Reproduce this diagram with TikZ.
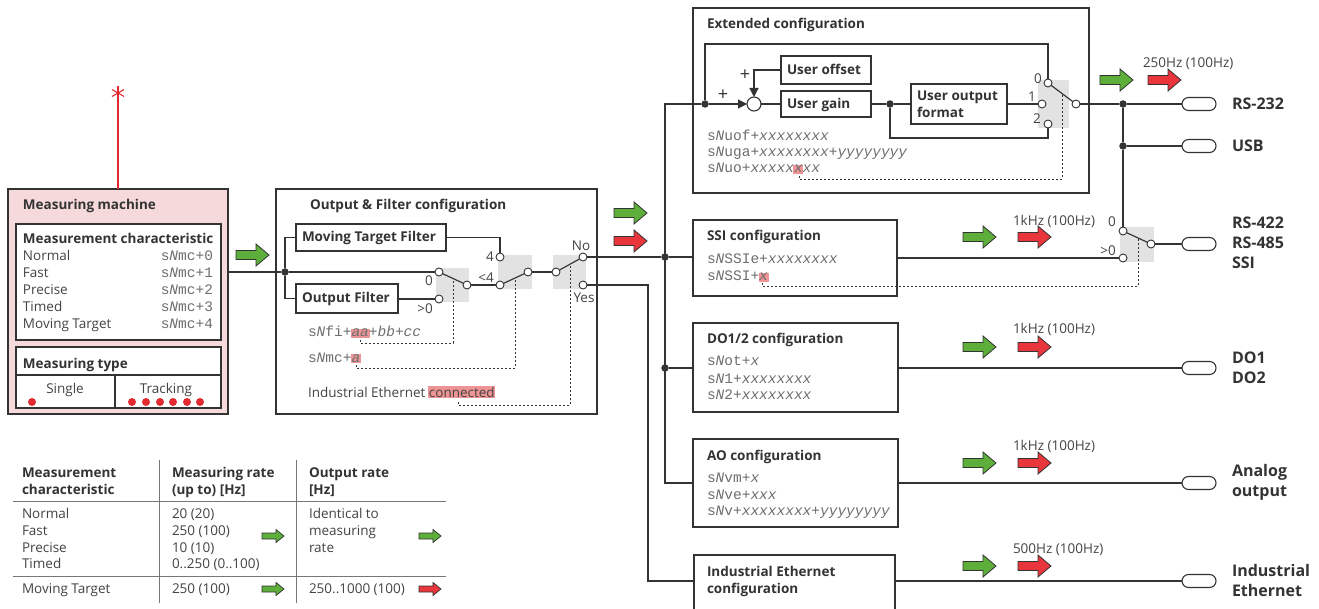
\documentclass[tikz,border=0pt]{standalone}
\usepackage{fontspec}
\setmainfont{Open Sans}
\newfontfamily\codefont{Liberation Mono}
\usetikzlibrary{arrows.meta}
\definecolor{ln}{HTML}{333333}
\definecolor{tx}{HTML}{333333}
\definecolor{tx2}{HTML}{444444}
\definecolor{cdc}{HTML}{6E6E6E}
\definecolor{pinkf}{HTML}{F6DADB}
\definecolor{hlc}{HTML}{EE9494}
\definecolor{agreen}{HTML}{5DAE3A}
\definecolor{ared}{HTML}{E8363C}
\definecolor{redd}{HTML}{E32A30}
\definecolor{swg}{HTML}{E2E2E2}
\definecolor{tlc}{HTML}{777777}
\newcommand\hl[1]{{\setlength{\fboxsep}{0.6pt}\kern-0.6pt\colorbox{hlc}{#1}\kern-0.6pt}}
\newcommand\cN{\textit{N}}
\begin{document}
\begin{tikzpicture}[x=1pt,y=-1pt,
 every node/.style={inner sep=0pt, outer sep=0pt},
 bx/.style={draw=ln, line width=1.1pt, fill=white, anchor=north west},
 ttl/.style={anchor=base west, text=tx, font=\bfseries\fontsize{13.5}{16}\selectfont},
 rg/.style={anchor=base west, text=tx2, font=\fontsize{13.5}{17}\selectfont},
 cd/.style={anchor=base west, text=cdc, font=\codefont\fontsize{14.5}{17}\selectfont},
 big/.style={anchor=west, text=tx, font=\bfseries\fontsize{16}{20}\selectfont, align=left},
 lbl/.style={anchor=center, text=tx2, font=\fontsize{13.5}{16}\selectfont},
 plus/.style={anchor=center, text=tx, font=\fontsize{18}{18}\selectfont},
 term/.style={circle, draw=ln, fill=white, line width=0.9pt, minimum size=8pt},
 jd/.style={circle, fill=ln, minimum size=7.5pt},
 rdot/.style={circle, fill=redd, minimum size=8pt},
 wire/.style={draw=ln, line width=1.15pt},
 dots/.style={draw=ln, line width=0.9pt, dash pattern=on 2pt off 2pt},
 redl/.style={draw=redd, line width=1.1pt},
 tl/.style={draw=tlc, line width=1pt},
 plug/.style={draw=ln, line width=1.1pt, fill=white, rounded corners=6.5pt, minimum width=34pt, minimum height=13pt},
 pics/barrow/.style={code={\filldraw[fill=#1, draw=ln, line width=0.8pt] (0,-4.5)--(20,-4.5)--(20,-11)--(33,0)--(20,11)--(20,4.5)--(0,4.5)--cycle;}},
 pics/sarrow/.style={code={\filldraw[fill=#1, draw=ln, line width=0.7pt] (0,-3)--(14,-3)--(14,-6.5)--(22,0)--(14,6.5)--(14,3)--(0,3)--cycle;}},
 tip/.style={-{Triangle[length=9pt,width=9pt]}}
]
\useasboundingbox[fill=white] (0,0) rectangle (1319,609);

% ---------------- Measuring machine
\coordinate (star) at (118,93);
\node[bx, fill=pinkf, minimum width=220pt, minimum height=225pt] (mm) at (8,189) {};
\draw[redl] (star) -- (star |- mm.north);
\draw[redl] (star) ++(0,-7) -- ++(0,14);
\draw[redl] (star) ++(-6.1,-3.5) -- ++(12.2,7);
\draw[redl] (star) ++(-6.1,3.5) -- ++(12.2,-7);
\node[ttl] (mmt) at (23,210) {Measuring machine};
\node[bx, minimum width=205pt, minimum height=116pt] (mc) at (16,224) {};
\begin{scope}
\clip (mc.north west) rectangle (mc.south east);
\node[ttl] (mct) at (23,244) {Measurement characteristic};
\end{scope}
\foreach \t/\c/\y [count=\i] in {Normal/0/261, Fast/1/278, Precise/2/295, Timed/3/312, Moving Target/4/329} {
 \node[rg] (mci\i) at (23,\y) {\t};
 \node[cd, anchor=base east] (mcc\i) at (213,\y) {s\cN mc+\c};
}
\node[bx, minimum width=205pt, minimum height=61pt] (mt) at (16,347) {};
\draw[wire] (16,375) -- (221,375);
\draw[wire] (115,375) -- (115,408);
\node[ttl] (mtt) at (23,368) {Measuring type};
\node[rg, anchor=base] (sgl) at (65,393) {Single};
\node[rg, anchor=base] (trk) at (166,393) {Tracking};
\node[rdot] (sd1) at (32,402) {};
\foreach \x [count=\i] in {132,146,160,173,187,200} \node[rdot] (td\i) at (\x,402) {};
\pic at (236,255) {barrow=agreen};

% ---------------- Output & Filter configuration
\node[bx, minimum width=321pt, minimum height=225pt] (ofc) at (276,189) {};
\node[ttl] (ofct) at (310,210) {Output \& Filter configuration};
\node[bx, minimum width=150pt, minimum height=27pt] (mtf) at (296,224) {};
\node[ttl] (mtft) at (302,242) {Moving Target Filter};
\node[bx, minimum width=102pt, minimum height=29pt] (of) at (296,284) {};
\node[ttl] (oft) at (302,303) {Output Filter};
\fill[swg] (436,268) rectangle (469,302);
\fill[swg] (498,255) rectangle (532,289);
\fill[swg] (553,255) rectangle (586,289);
\node[jd] (jdot) at (285,272) {};
\draw[wire] (mm.east |- jdot) -- (jdot);
\draw[wire] (mtf.west) -| (jdot) |- (of.west);
\node[term] (t10) at (439,272) {};
\node[term] (t1g) at (439,299) {};
\node[term] (c1) at (467,285) {};
\node[term] (t24) at (500,257) {};
\node[term] (t2l) at (500,285) {};
\node[term] (c2) at (528,272) {};
\node[term] (c3) at (556,272) {};
\node[term] (tno) at (583,257) {};
\node[term] (tyes) at (583,285) {};
\draw[wire] (jdot) -- (t10);
\draw[wire] (of.east |- t1g) -- (t1g);
\draw[wire] (t10) -- (c1);
\draw[wire] (c1) -- (t2l);
\draw[wire] (mtf.east) -| (t24);
\draw[wire] (t2l) -- (c2);
\draw[wire] (c2) -- (c3);
\draw[wire] (c3) -- (tno);
\node[lbl] (l0a) at (429,281) {0};
\node[lbl] (l0b) at (425,309) {>0};
\node[lbl] (l4a) at (490,257) {4};
\node[lbl] (l4b) at (486,278) {<4};
\node[lbl] (lno) at (581,246) {No};
\node[lbl] (lyes) at (584,298) {Yes};
\node[cd] (cfi) at (308,337) {s\cN fi+\hl{\textit{aa}}+\textit{bb}+\textit{cc}};
\node[cd] (cmc) at (308,362) {s\cN mc+\hl{\textit{a}}};
\node[rg] (iec) at (308,397) {Industrial Ethernet \hl{connected}};
\draw[dots] (360,340) -- (360,343) -- (453,343) -- (453,281);
\draw[dots] (356,365) -- (356,368) -- (515,368) -- (515,280);
\draw[dots] (458,402) -- (458,405) -- (570,405) -- (570,265);
\pic at (614,213) {barrow=agreen};
\pic at (614,241) {barrow=ared};

% ---------------- right-hand configuration boxes
\node[bx, minimum width=396pt, minimum height=185pt] (ext) at (693,8) {};
\node[bx, minimum width=204pt, minimum height=76pt] (ssi) at (693,220) {};
\node[bx, minimum width=205pt, minimum height=89pt] (do) at (693,323) {};
\node[bx, minimum width=205pt, minimum height=88pt] (ao) at (693,439) {};
\node[bx, minimum width=201pt, minimum height=70pt] (ie) at (694,555) {};

% bus
\coordinate (busT) at (665,104);
\coordinate (busB) at (665,483);
\node[jd] (b1) at (665,257) {};
\node[jd] (b2) at (665,368) {};
\coordinate (yc) at (648,581);
\draw[wire] (tno) -- (b1) -- (ssi.west |- b1);
\draw[wire] (b2) -- (do.west |- b2);
\draw[wire] (tyes) -| (yc) -- (ie.west |- yc);

% Extended configuration
\node[ttl] (extt) at (707,29) {Extended configuration};
\fill[swg] (1038,80) rectangle (1069,128);
\node[jd] (e1) at (705,104) {};
\draw[wire] (e1) -- (busT) -- (busB) -- (ao.west |- busB);
\draw[wire] (b1) -- (busT);
\node[circle, draw=ln, fill=white, line width=1.1pt, minimum size=14pt] (sum) at (754,104) {};
\node[bx, minimum width=90pt, minimum height=28pt] (uo) at (781,56) {};
\node[ttl] (uot) at (787,75) {User offset};
\node[bx, minimum width=90pt, minimum height=26pt] (ug) at (781,91) {};
\node[ttl] (ugt) at (787,109) {User gain};
\node[bx, minimum width=96pt, minimum height=40pt] (uof) at (911,84) {};
\node[ttl] (uoft1) at (917,101) {User output};
\node[ttl] (uoft2) at (917,118) {format};
\node[jd] (e2) at (890,104) {};
\node[term] (t0) at (1048,83) {};
\node[term] (t1) at (1042,104) {};
\node[term] (t2) at (1048,124) {};
\node[term] (eC) at (1076,104) {};
\coordinate (etop) at (1048,44);
\coordinate (ebot) at (1048,138);
\draw[wire] (e1) |- (etop) -- (t0);
\draw[wire, tip] (e1) -- (sum);
\draw[wire, tip] (uo.west) -| (sum.north);
\draw[wire] (sum) -- (ug);
\draw[wire] (ug) -- (e2) -- (uof);
\draw[wire] (uof.east |- t1) -- (t1);
\draw[wire] (e2) |- (ebot) -- (t2);
\draw[wire] (t0) -- (eC);
\node[plus] (pl1) at (723,95) {+};
\node[plus] (pl2) at (745,75) {+};
\node[lbl] (le0) at (1038,79) {0};
\node[lbl] (le1) at (1032,97) {1};
\node[lbl] (le2) at (1037,119) {2};
\node[cd] (cuof) at (707,141) {s\cN uof+\textit{xxxxxxxx}};
\node[cd] (cuga) at (707,157) {s\cN uga+\textit{xxxxxxxx}+\textit{yyyyyyyy}};
\node[cd] (cuo) at (707,173) {s\cN uo+\textit{xxxxx}\hl{\textit{x}}\textit{xx}};
\draw[dots] (799,176) -- (799,179) -- (1062,179) -- (1062,95);

% SSI configuration
\node[ttl] (ssit) at (707,241) {SSI configuration};
\node[cd] (cssi1) at (707,264) {s\cN SSIe+\textit{xxxxxxxx}};
\node[cd] (cssi2) at (707,281) {s\cN SSI+\hl{\textit{x}}};
\fill[swg] (1120,227) rectangle (1154,262);
\node[term] (tS0) at (1123,231) {};
\node[term] (tSg) at (1123,258) {};
\node[term] (cS) at (1151,244) {};
\draw[wire] (ssi.east |- tSg) -- (tSg);
\draw[wire] (tS0) -- (cS);
\node[lbl] (ls0) at (1112,222) {0};
\node[lbl] (ls1) at (1108,251) {>0};
\draw[dots] (762,283) -- (762,286) -- (1138,286) -- (1138,239);

% DO / AO / IE
\node[ttl] (dot) at (707,344) {DO1/2 configuration};
\node[cd] (cdo1) at (707,366) {s\cN ot+\textit{x}};
\node[cd] (cdo2) at (707,383) {s\cN 1+\textit{xxxxxxxx}};
\node[cd] (cdo3) at (707,399) {s\cN 2+\textit{xxxxxxxx}};
\node[ttl] (aot) at (707,460) {AO configuration};
\node[cd] (cao1) at (707,482) {s\cN vm+\textit{x}};
\node[cd] (cao2) at (707,499) {s\cN ve+\textit{xxx}};
\node[cd] (cao3) at (707,515) {s\cN v+\textit{xxxxxxxx}+\textit{yyyyyyyy}};
\node[ttl] (iet1) at (707,576) {Industrial Ethernet};
\node[ttl] (iet2) at (707,593) {configuration};

% outputs
\node[jd] (d1) at (1123,104) {};
\node[jd] (d2) at (1123,146) {};
\node[plug] (p232) at (1199,104) {};
\node[plug] (pusb) at (1199,146) {};
\node[plug] (pssi) at (1199,244) {};
\node[plug] (pdo) at (1199,368) {};
\node[plug] (pao) at (1199,483) {};
\node[plug] (pie) at (1199,581) {};
\draw[wire] (eC) -- (d1) -- (p232);
\draw[wire] (d2) -- (pusb);
\draw[wire] (d1) -- (d2) -- (tS0);
\draw[wire] (cS) -- (pssi);
\draw[wire] (do.east |- pdo) -- (pdo);
\draw[wire] (ao.east |- pao) -- (pao);
\draw[wire] (ie.east |- pie) -- (pie);
\node[big] (l232) at (1232,104) {RS-232};
\node[big] (lusb) at (1232,146) {USB};
\node[big] (lssi) at (1232,243) {RS-422\\RS-485\\SSI};
\node[big] (ldo) at (1232,368) {DO1\\DO2};
\node[big] (lao) at (1232,482) {Analog\\output};
\node[big] (lie) at (1232,580) {Industrial\\Ethernet};

% rate arrows and labels
\pic at (1100,80) {barrow=agreen};
\pic at (1148,80) {barrow=ared};
\node[rg] (f0) at (1143,68) {250Hz (100Hz)};
\foreach \y/\n in {237/1, 347/2, 463/3} {
 \pic at (963,\y) {barrow=agreen};
 \pic at (1018,\y) {barrow=ared};
}
\node[rg] (f1) at (1013,226) {1kHz (100Hz)};
\node[rg] (f2) at (1013,334) {1kHz (100Hz)};
\node[rg] (f3) at (1013,450) {1kHz (100Hz)};
\pic at (963,566) {barrow=agreen};
\pic at (1018,566) {barrow=ared};
\node[rg] (f4) at (1013,553) {500Hz (100Hz)};

% ---------------- table
\draw[tl] (13,501) -- (446,501);
\draw[tl] (13,576) -- (446,576);
\draw[tl] (159,460) -- (159,603);
\draw[tl] (296,460) -- (296,603);
\node[ttl] (h11) at (22,477) {Measurement};
\node[ttl] (h12) at (22,494) {characteristic};
\node[ttl] (h21) at (172,477) {Measuring rate};
\node[ttl] (h22) at (172,494) {(up to) [Hz]};
\node[ttl] (h31) at (309,477) {Output rate};
\node[ttl] (h32) at (309,494) {[Hz]};
\foreach \a/\b/\y [count=\i] in {Normal/20 (20)/518, Fast/250 (100)/535, Precise/10 (10)/552, Timed/0..250 (0..100)/568} {
 \node[rg] (ta\i) at (22,\y) {\a};
 \node[rg] (tb\i) at (172,\y) {\b};
}
\node[rg] (tc1) at (309,518) {Identical to};
\node[rg] (tc2) at (309,535) {measuring};
\node[rg] (tc3) at (309,552) {rate};
\node[rg] (tm1) at (22,593) {Moving Target};
\node[rg] (tm2) at (172,593) {250 (100)};
\node[rg] (tm3) at (309,593) {250..1000 (100)};
\pic at (262,536) {sarrow=agreen};
\pic at (419,536) {sarrow=agreen};
\pic at (262,589) {sarrow=agreen};
\pic at (419,589) {sarrow=ared};
\end{tikzpicture}
\end{document}
